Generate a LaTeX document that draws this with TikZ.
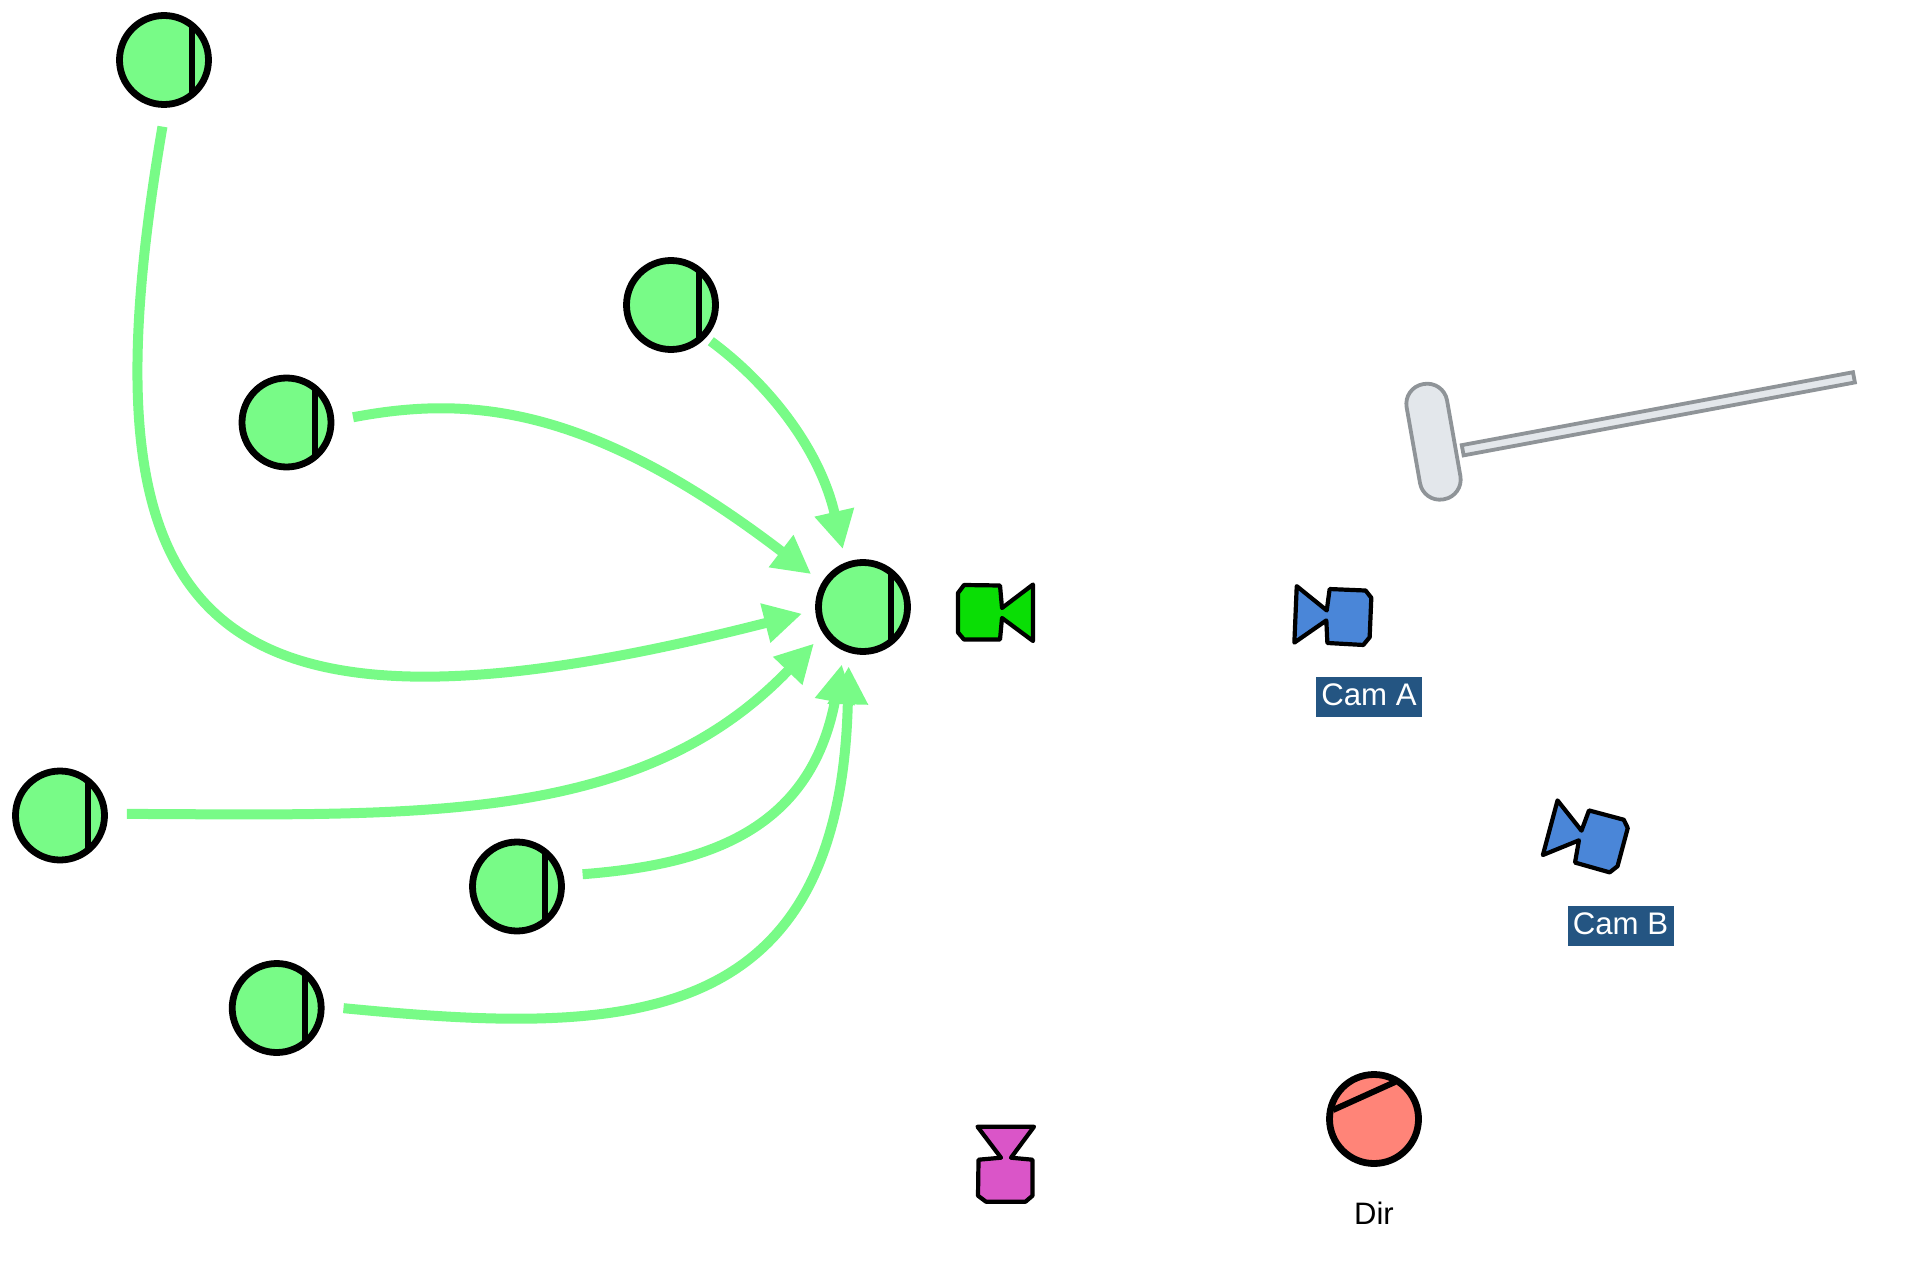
\documentclass[tikz,border=0pt]{standalone}
\usepackage{fontspec}
\setmainfont{Liberation Sans}
\usetikzlibrary{arrows.meta,calc}
\definecolor{actorgreen}{RGB}{120,251,135}
\definecolor{markgreen}{RGB}{10,222,5}
\definecolor{camblue}{RGB}{74,134,216}
\definecolor{markpink}{RGB}{218,85,200}
\definecolor{dirred}{RGB}{255,132,120}
\definecolor{tagblue}{RGB}{36,85,130}
\definecolor{dollyfill}{RGB}{227,231,235}
\definecolor{dollyline}{RGB}{143,148,152}

\begin{document}
\begin{tikzpicture}[
    x=0.5pt, y=-0.5pt,
    actor/.style={circle, draw=black, line width=3.4pt, fill=actorgreen,
                  minimum size=44.5pt, inner sep=0pt},
    bar/.style={black, line width=3pt},
    link/.style={-{Triangle[length=19pt,width=19pt]}, line width=5pt, actorgreen,
                 shorten >=6.75pt, shorten <=9.5pt},
    tag/.style={rectangle, fill=tagblue, text=white, font=\fontsize{15.6}{18}\selectfont,
                minimum width=53pt, minimum height=20pt, inner sep=0pt, text depth=2.4pt},
    dolly/.style={rectangle, draw=dollyline, fill=dollyfill, line width=1.9pt, inner sep=0pt},
    camera/.pic={
        \draw[pic actions, line width=2.1pt, line join=round]
            (-42,-19.5) -- (-36,-27.5) -- (0,-27) -- (2,-4.5) -- (33,-28) -- (33,28.5)
            -- (2,5.5) -- (0,27) -- (-36,27) -- (-42,20) -- cycle;
    }
]
    \useasboundingbox (0,0) rectangle (1920,1261);

    \node[actor] (a1) at (164,60) {};
    \node[actor] (a2) at (671,305) {};
    \node[actor] (a3) at (286.5,422.5) {};
    \node[actor] (a4) at (60,815.5) {};
    \node[actor] (a5) at (517,886.5) {};
    \node[actor] (a6) at (276.7,1008) {};
    \node[actor] (main) at (863,607) {};
    \foreach \n in {a1,a2,a3,a4,a5,a6,main}
        \draw[bar] ($(\n)+(28,-34.6)$) -- ($(\n)+(28,34.6)$);

    \node[actor, fill=dirred] (dir) at (1374,1119) {};
    \draw[bar] ($(dir)+(-41,-9)$) -- ($(dir)+(21,-37)$);
    \node[font=\fontsize{15.5}{18}\selectfont] (dirlabel) at (1374,1213) {Dir};

    \draw[link] (a1.272) .. controls (78,620) and (190,770) .. (main.184);
    \draw[link, shorten <=3pt] (a2.-43) .. controls (770,385) and (820,450) .. (main.111);
    \draw[link] (a3.2) .. controls (470,395) and (590,405) .. (main.149);
    \draw[link] (a4.2) .. controls (420,815) and (640,825) .. (main.214);
    \draw[link] (a5.13) .. controls (700,865) and (810,835) .. (main.247);
    \draw[link] (a6.2) .. controls (620,1035) and (840,1035) .. (main.253);

    \pic[fill=markgreen] (camMain) at (1000,612.5) {camera};
    \pic[fill=camblue, rotate=177.6] (camA) at (1328.5,616) {camera};
    \pic[fill=camblue, rotate=165] (camB) at (1582,836.5) {camera};
    \pic[fill=markpink, rotate=90] (camTop) at (1005.5,1159.7) {camera};

    \node[tag] (tagA) at (1369,696.7) {Cam A};
    \node[tag] (tagB) at (1620.5,925.8) {Cam B};

    \node[dolly, rounded corners=10pt, minimum width=20.5pt, minimum height=58.5pt, rotate=10] (head) at (1433.5,441.7) {};
    \node[dolly, minimum width=199pt, minimum height=5.2pt, rotate=10.56] (arm) at (1658.3,413.8) {};
\end{tikzpicture}
\end{document}
